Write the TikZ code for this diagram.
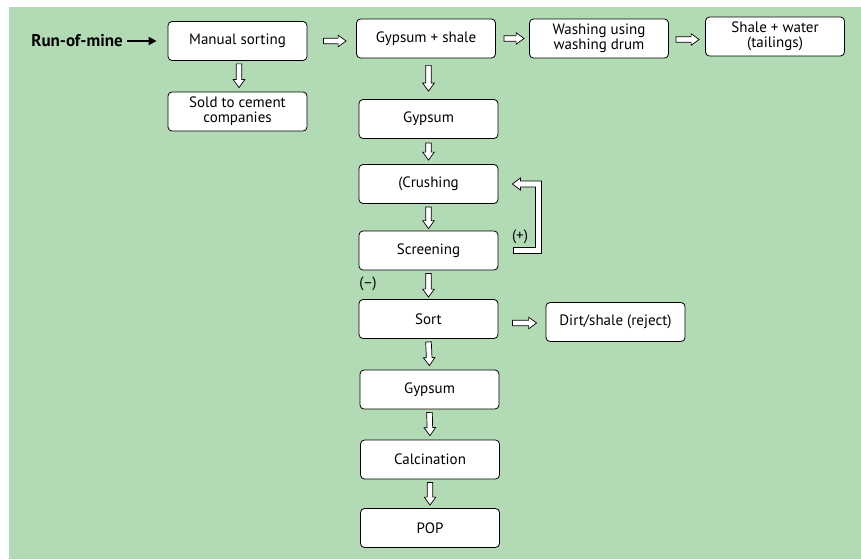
\documentclass[tikz,border=0pt]{standalone}
\usepackage{fontspec}
\setmainfont{PT Sans}
\usetikzlibrary{calc,arrows.meta}
\definecolor{bggreen}{RGB}{178,218,180}

\begin{document}
\begin{tikzpicture}[x=1pt, y=-1pt,
    font=\fontsize{15}{15}\selectfont,
    box/.style={draw, rectangle, rounded corners=4pt, fill=white, line width=0.8pt,
        minimum width=139pt, minimum height=39pt, align=center, inner sep=2pt},
    hollow/.style={draw, fill=white, line width=0.7pt, line join=miter, to path={
        let \p1=(\tikztostart), \p2=(\tikztotarget),
            \n1={atan2(\y2-\y1,\x2-\x1)}, \n2={veclen(\x2-\x1,\y2-\y1)-8pt}
        in ($(\p1)+(\n1+90:2.8pt)$) -- ($(\p1)+(\n1:\n2)+(\n1+90:2.8pt)$)
        -- ($(\p1)+(\n1:\n2)+(\n1+90:5.8pt)$) -- (\p2)
        -- ($(\p1)+(\n1:\n2)+(\n1-90:5.8pt)$) -- ($(\p1)+(\n1:\n2)+(\n1-90:2.8pt)$)
        -- ($(\p1)+(\n1-90:2.8pt)$) -- cycle}}]

    \useasboundingbox (0,0) rectangle (861,559);
    \fill[bggreen] (9,7) rectangle (861,559);

    % top row
    \node[font=\fontsize{17}{18}\selectfont\bfseries, inner sep=0pt] (rom) at (77,41) {Run-of-mine};
    \node[box] (man) at (237.5,41) {Manual sorting};
    \node[box] (gs) at (426,38.5) {Gypsum + shale};
    \node[box] (wash) at (599,38.5) {Washing using\\washing drum};
    \node[box] (tail) at (775,36.5) {Shale + water\\(tailings)};
    \node[box] (sold) at (237.5,111.5) {Sold to cement\\companies};

    % main column
    \node[box] (gyp) at (428.5,119) {Gypsum};
    \node[box] (cru) at (428.5,184) {(Crushing};
    \node[box] (scr) at (428.5,250.5) {Screening};
    \node[box] (sort) at (428.5,319) {Sort};
    \node[box] (dirt) at (615.5,322) {Dirt/shale (reject)};
    \node[box] (gyp2) at (429.5,389.5) {Gypsum};
    \node[box] (calc) at (430,459.5) {Calcination};
    \node[box] (pop) at (430,528) {POP};

    \node (plus) at (520,237) {(+)};
    \node (minus) at (368,284) {(–)};

    \draw[-{Triangle[length=8pt,width=8pt]}, line width=2.8pt, shorten <=4pt, shorten >=11pt] (rom.east) -- (man.west |- rom.east);

    \draw[hollow] ($(man.east)+(16,0)$) to ($(man.east -| gs.west)+(-10,0)$);
    \draw[hollow] ($(gs.east)+(8,0)$) to ($(wash.west)+(-5,0)$);
    \draw[hollow] ($(wash.east)+(7,1)$) to ($(wash.east -| tail.west)+(-6,1)$);
    \draw[hollow] ($(man.south)+(1.5,3)$) to ($(sold.north)+(1.5,-4)$);
    \draw[hollow] ($(gs.south -| gyp.north)+(0,7)$) to ($(gyp.north)+(0,-8)$);
    \draw[hollow] ($(gyp.south)+(0,4)$) to ($(cru.north)+(0,-4)$);
    \draw[hollow] ($(cru.south)+(0,3)$) to ($(scr.north)+(0,-2)$);
    \draw[hollow] ($(scr.south)+(0,3)$) to ($(sort.north)+(0,-2)$);
    \draw[hollow] ($(sort.south)+(0,3)$) to ($(gyp2.north)+(0,-4)$);
    \draw[hollow] ($(gyp2.south)+(0,3)$) to ($(calc.north)+(0,-4)$);
    \draw[hollow] ($(calc.south)+(0,3)$) to ($(pop.north)+(0,-3)$);
    \draw[hollow] ($(sort.east |- dirt.west)+(14,1)$) to ($(dirt.west)+(-9,1)$);

    % loop back to crushing
    \draw[fill=white, line width=0.7pt, line join=miter]
        let \p1=(scr.east), \p2=(cru.east) in
        (\x1+15pt,\y1+3pt) -- (\x1+37pt,\y1+3pt) -- (\x1+37pt,\y2-3pt)
        -- (\x2+22pt,\y2-3pt) -- (\x2+22pt,\y2-6pt) -- (\x2+14pt,\y2)
        -- (\x2+22pt,\y2+6pt) -- (\x2+22pt,\y2+3pt) -- (\x1+43pt,\y2+3pt)
        -- (\x1+43pt,\y1-3pt) -- (\x1+15pt,\y1-3pt) -- cycle;
\end{tikzpicture}
\end{document}
